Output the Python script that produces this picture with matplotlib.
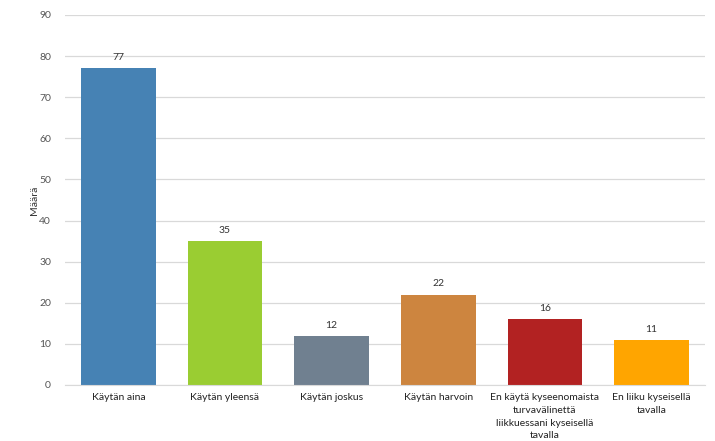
import matplotlib.pyplot as plt
import numpy as np

plt.rcParams['font.family'] = ['Lato', 'DejaVu Sans']

labels = ["Käytän aina", "Käytän yleensä", "Käytän joskus", "Käytän harvoin",
          "En käytä kyseenomaista\nturvavälinettä\nliikkuessani kyseisellä\ntavalla",
          "En liiku kyseisellä\ntavalla"]
values = [77, 35, 12, 22, 16, 11]
colors = ["#4682B4", "#9ACD32", "#708090", "#CD853F", "#B22222", "#FFA500"]

fig = plt.figure(figsize=(7.15, 4.41), dpi=100)
ax = fig.add_axes([65 / 715, 1 - 385 / 441, 640 / 715, 370 / 441])

x = np.arange(len(labels))
bars = ax.bar(x, values, width=0.7, color=colors, zorder=3)
for b, v in zip(bars, values):
    ax.text(b.get_x() + b.get_width() / 2, v + 1.5, str(v), ha='center', va='bottom',
            fontsize=7.5, color='#333333')

ax.set_xlim(-0.5, len(labels) - 0.5)
ax.set_ylim(0, 90)
ax.set_yticks(range(0, 91, 10))
ax.set_xticks(x)
ax.set_xticklabels([])
# category labels, each line centred under its bar
for xi, lab in zip(x, labels):
    for i, line in enumerate(lab.split("\n")):
        ax.annotate(line, xy=(xi, 0), xycoords=('data', 'axes fraction'),
                    xytext=(0, -6 - i * 9.1), textcoords='offset points',
                    ha='center', va='top', fontsize=7.5, color='#222222',
                    annotation_clip=False)
ax.tick_params(axis='y', labelsize=7.5, labelcolor='#555555', length=0, pad=10)
ax.tick_params(axis='x', length=0)
ax.grid(axis='y', color='#d9d9d9', linewidth=0.9, zorder=0)
for s in ['top', 'right', 'left']:
    ax.spines[s].set_visible(False)
ax.spines['bottom'].set_color('#d9d9d9')
ax.spines['bottom'].set_zorder(4)
ax.set_ylabel("Määrä", fontsize=7.5, color='#333333', labelpad=0)

fig.savefig("out.png", dpi=100)
